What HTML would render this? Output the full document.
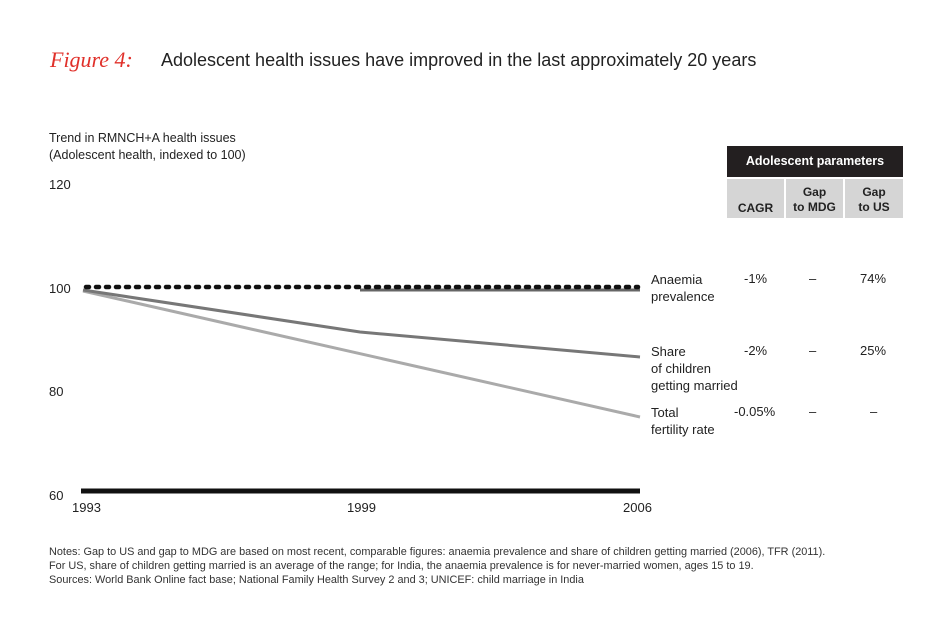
<!DOCTYPE html>
<html><head><meta charset="utf-8"><style>
body{margin:0;background:#fff;font-family:"Liberation Sans",sans-serif;color:#222}
.t{position:absolute;white-space:nowrap}
</style></head><body>
<div style="position:relative;width:950px;height:641px;overflow:hidden">
<div class="t" style="left:50px;top:47px;font-size:22px;color:#e0302a;font-style:italic;font-family:'Liberation Serif',serif">Figure 4:</div>
<div class="t" style="left:161px;top:50px;font-size:18px;color:#222">Adolescent health issues have improved in the last approximately 20 years</div>
<div class="t" style="left:49px;top:130px;font-size:12.5px;line-height:17px">Trend in RMNCH+A health issues<br>(Adolescent health, indexed to 100)</div>
<div class="t" style="left:49px;top:177px;font-size:13px">120</div>
<div class="t" style="left:49px;top:281px;font-size:13px">100</div>
<div class="t" style="left:49px;top:384px;font-size:13px">80</div>
<div class="t" style="left:49px;top:488px;font-size:13px">60</div>
<div class="t" style="left:72px;top:500px;font-size:13px">1993</div>
<div class="t" style="left:347px;top:500px;font-size:13px">1999</div>
<div class="t" style="left:623px;top:500px;font-size:13px">2006</div>
<svg style="position:absolute;left:0;top:0" width="950" height="641">
<line x1="81" y1="491" x2="640" y2="491" stroke="#111" stroke-width="5"/>
<polyline points="83,291 640,417" fill="none" stroke="#aaa" stroke-width="3"/>
<polyline points="83,290 360,332 640,357" fill="none" stroke="#777" stroke-width="3"/>
<line x1="360" y1="290" x2="640" y2="290" stroke="#666" stroke-width="3"/>
<line x1="86" y1="287" x2="638" y2="287" stroke="#111" stroke-width="4.5" stroke-dasharray="3,7" stroke-linecap="round"/>
</svg>
<div style="position:absolute;left:727px;top:146px;width:176px;height:31px;background:#231f20;color:#fff;font-weight:bold;font-size:12.5px;text-align:center;line-height:31px">Adolescent parameters</div>
<div style="position:absolute;left:727px;top:179px;width:57px;height:39px;background:#d5d5d5;font-weight:bold;font-size:12px;text-align:center;line-height:15px"><div style="padding-top:22px">CAGR</div></div>
<div style="position:absolute;left:786px;top:179px;width:57px;height:39px;background:#d5d5d5;font-weight:bold;font-size:12px;text-align:center;line-height:15px"><div style="padding-top:6px">Gap<br>to MDG</div></div>
<div style="position:absolute;left:845px;top:179px;width:58px;height:39px;background:#d5d5d5;font-weight:bold;font-size:12px;text-align:center;line-height:15px"><div style="padding-top:6px">Gap<br>to US</div></div>
<div class="t" style="left:651px;top:271px;font-size:13px;line-height:17px">Anaemia<br>prevalence</div>
<div class="t" style="left:651px;top:343px;font-size:13px;line-height:17px">Share<br>of children<br>getting married</div>
<div class="t" style="left:651px;top:404px;font-size:13px;line-height:17px">Total<br>fertility rate</div>
<div class="t" style="left:744px;top:271px;font-size:13px">-1%</div>
<div class="t" style="left:744px;top:343px;font-size:13px">-2%</div>
<div class="t" style="left:734px;top:404px;font-size:13px">-0.05%</div>
<div class="t" style="left:809px;top:271px;font-size:13px">–</div>
<div class="t" style="left:809px;top:343px;font-size:13px">–</div>
<div class="t" style="left:809px;top:404px;font-size:13px">–</div>
<div class="t" style="left:860px;top:271px;font-size:13px">74%</div>
<div class="t" style="left:860px;top:343px;font-size:13px">25%</div>
<div class="t" style="left:870px;top:404px;font-size:13px">–</div>
<div class="t" style="left:49px;top:545px;font-size:10.9px;line-height:14px;color:#333">Notes: Gap to US and gap to MDG are based on most recent, comparable figures: anaemia prevalence and share of children getting married (2006), TFR (2011).<br>For US, share of children getting married is an average of the range; for India, the anaemia prevalence is for never-married women, ages 15 to 19.<br>Sources: World Bank Online fact base; National Family Health Survey 2 and 3; UNICEF: child marriage in India</div>
</div>
</body></html>
